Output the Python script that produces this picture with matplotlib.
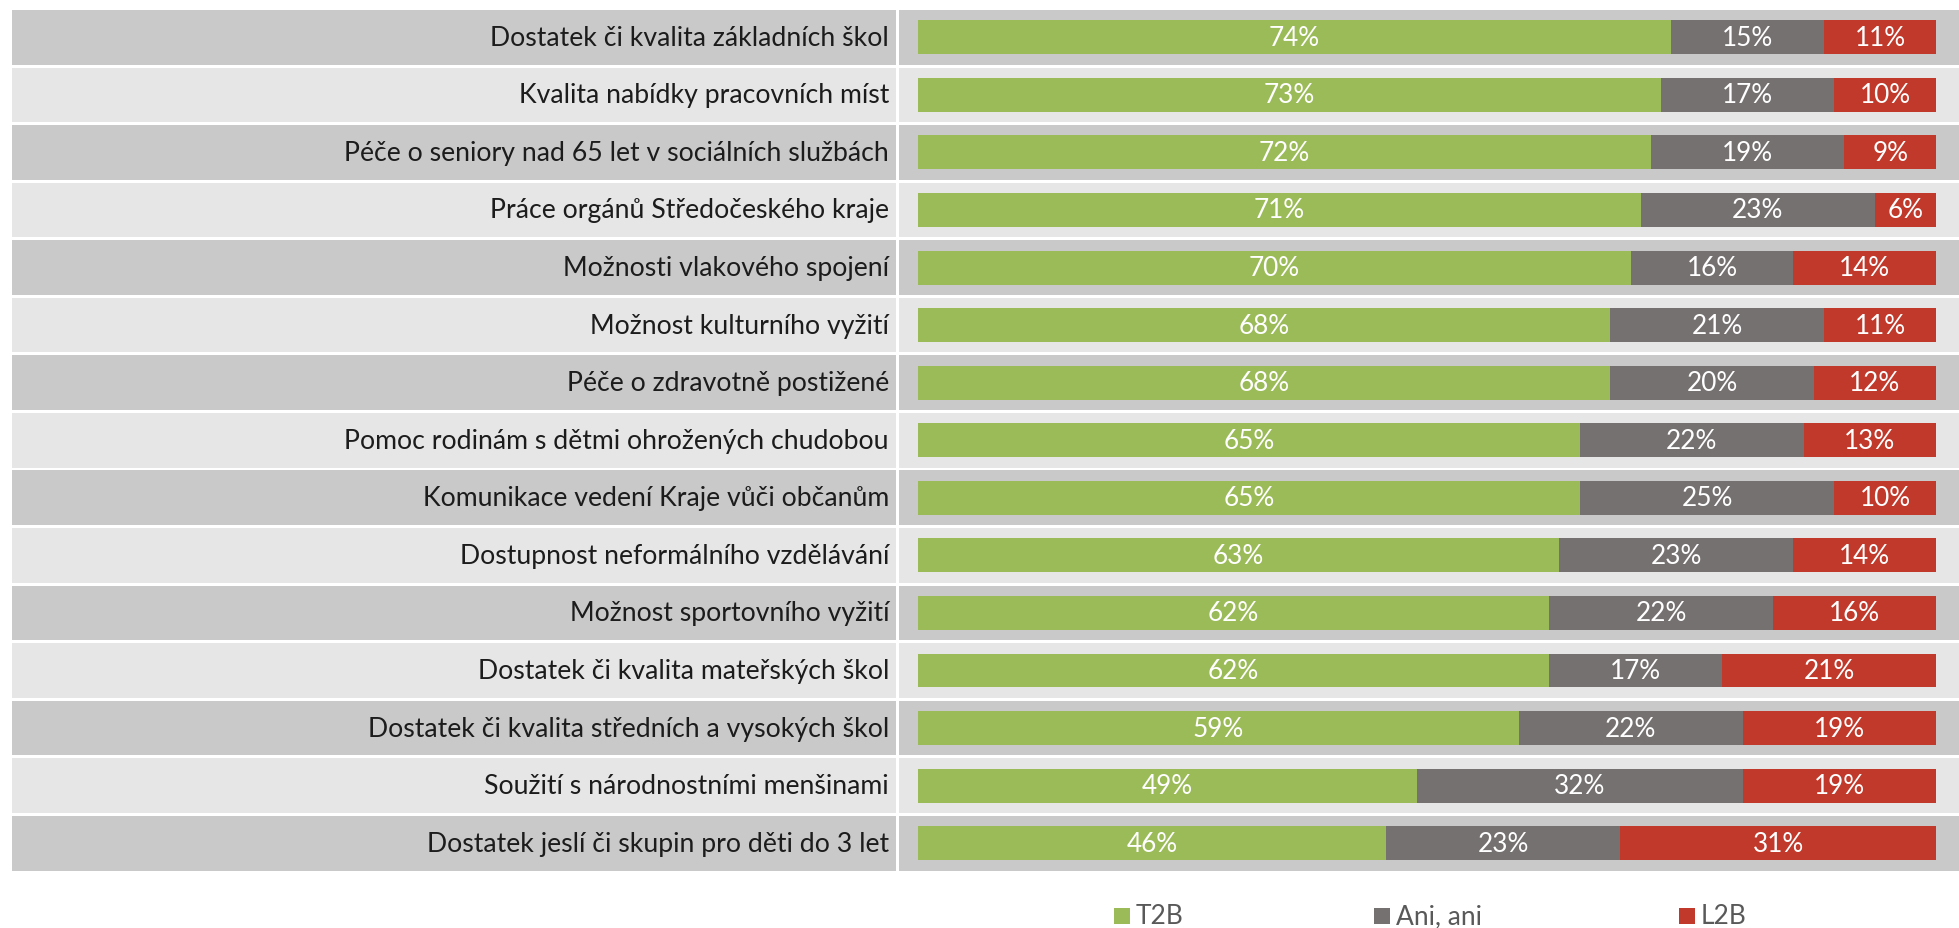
import matplotlib
matplotlib.use("Agg")
import matplotlib.pyplot as plt
from matplotlib.patches import Rectangle
import matplotlib.transforms as mtrans
import numpy as np

categories = [
    "Dostatek či kvalita základních škol",
    "Kvalita nabídky pracovních míst",
    "Péče o seniory nad 65 let v sociálních službách",
    "Práce orgánů Středočeského kraje",
    "Možnosti vlakového spojení",
    "Možnost kulturního vyžití",
    "Péče o zdravotně postižené",
    "Pomoc rodinám s dětmi ohrožených chudobou",
    "Komunikace vedení Kraje vůči občanům",
    "Dostupnost neformálního vzdělávání",
    "Možnost sportovního vyžití",
    "Dostatek či kvalita mateřských škol",
    "Dostatek či kvalita středních a vysokých škol",
    "Soužití s národnostními menšinami",
    "Dostatek jeslí či skupin pro děti do 3 let",
]
t2b = [74, 73, 72, 71, 70, 68, 68, 65, 65, 63, 62, 62, 59, 49, 46]
ani = [15, 17, 19, 23, 16, 21, 20, 22, 25, 23, 22, 17, 22, 32, 23]
l2b = [11, 10, 9, 6, 14, 11, 12, 13, 10, 14, 16, 21, 19, 19, 31]
series_names = ["T2B", "Ani, ani", "L2B"]
series_colors = ["#9BBB59", "#767171", "#C0392B"]

FONT = "Lato"
W, H = 1959, 929
fig = plt.figure(figsize=(W / 100, H / 100), dpi=100)


def px(x0, y0, x1, y1):
    return [x0 / W, 1 - y1 / H, (x1 - x0) / W, (y1 - y0) / H]


ax = fig.add_axes(px(918, 9.5, 1936, 873))
n = len(categories)
y = np.arange(n)
ax.set_xlim(0, 100)
ax.set_ylim(n - 0.5, -0.5)
ax.axis("off")

blend = mtrans.blended_transform_factory(fig.transFigure, ax.transData)
band_h = 0.95
for i in range(n):
    c = "#C9C9C9" if i % 2 == 0 else "#E6E6E6"
    ax.add_patch(Rectangle((12 / W, i - band_h / 2), (896 - 12) / W, band_h,
                           transform=blend, facecolor=c, edgecolor="none",
                           clip_on=False, zorder=0))
    ax.add_patch(Rectangle((899 / W, i - band_h / 2), 1 - 899 / W, band_h,
                           transform=blend, facecolor=c, edgecolor="none",
                           clip_on=False, zorder=0))
    ax.text(889 / W, i, categories[i], transform=blend, ha="right", va="center",
            fontsize=19.2, family=FONT, color="#1c1c1c")

left = np.zeros(n)
for vals, col in zip([t2b, ani, l2b], series_colors):
    vals = np.array(vals)
    ax.barh(y, vals, left=left, height=0.59, color=col, edgecolor="none", zorder=2)
    for i in range(n):
        ax.text(left[i] + vals[i] / 2, i, f"{vals[i]}%", ha="center", va="center",
                color="white", fontsize=18.8, family=FONT, zorder=3)
    left = left + vals

# legend
leg_x = [1114, 1374, 1679]
for xs, name, col in zip(leg_x, series_names, series_colors):
    fig.patches.append(Rectangle((xs / W, 1 - 925 / H), 16 / W, 16 / H,
                                 transform=fig.transFigure, facecolor=col,
                                 edgecolor="none"))
    fig.text((xs + 22) / W, 1 - 917 / H, name, ha="left", va="center",
             fontsize=19, family=FONT, color="#595959")

fig.savefig("out.png", dpi=100)
